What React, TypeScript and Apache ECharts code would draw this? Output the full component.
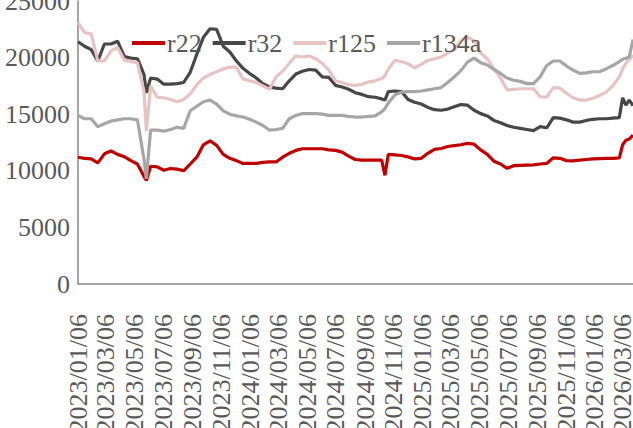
import React, { useEffect, useRef } from "react";
import * as echarts from "echarts";

const sampleDates = [
  "2023/01/06", "2023/01/20", "2023/02/03", "2023/02/17", "2023/03/03", "2023/03/17", "2023/03/31",
  "2023/04/14", "2023/04/28", "2023/05/12", "2023/05/26", "2023/05/31", "2023/06/09", "2023/06/23",
  "2023/07/07", "2023/07/21", "2023/08/04", "2023/08/18", "2023/09/01", "2023/09/15", "2023/09/29",
  "2023/10/13", "2023/10/27", "2023/11/10", "2023/11/24", "2023/12/08", "2023/12/22", "2024/01/05",
  "2024/01/19", "2024/02/02", "2024/02/16", "2024/03/01", "2024/03/15", "2024/03/29", "2024/04/12",
  "2024/04/26", "2024/05/10", "2024/05/24", "2024/06/07", "2024/06/21", "2024/07/05", "2024/07/19",
  "2024/08/02", "2024/08/16", "2024/08/30", "2024/09/13", "2024/09/27", "2024/10/11", "2024/10/18",
  "2024/10/25", "2024/11/08", "2024/11/22", "2024/12/06", "2024/12/20", "2025/01/03", "2025/01/17",
  "2025/01/31", "2025/02/14", "2025/02/28", "2025/03/14", "2025/03/28", "2025/04/11", "2025/04/25",
  "2025/05/09", "2025/05/23", "2025/06/06", "2025/06/20", "2025/07/04", "2025/07/18", "2025/08/01",
  "2025/08/15", "2025/08/29", "2025/09/12", "2025/09/26", "2025/10/10", "2025/10/24", "2025/11/07",
  "2025/11/21", "2025/12/05", "2025/12/19", "2026/01/02", "2026/01/16", "2026/01/30", "2026/02/13",
  "2026/02/27", "2026/03/06", "2026/03/13", "2026/03/20", "2026/03/28",
];

const r22 = [
  11200, 11100, 11050, 10700, 11500, 11750, 11450,
  11250, 10900, 10600, 9500, 9150, 10400, 10350,
  10050, 10200, 10150, 10000, 10600, 11200, 12300,
  12650, 12250, 11450, 11100, 10900, 10650, 10650,
  10650, 10750, 10780, 10780, 11200, 11550, 11800,
  11950, 11950, 11950, 11950, 11850, 11800, 11650,
  11300, 11000, 10950, 10950, 10950, 10950, 9600,
  11450, 11400, 11350, 11230, 11050, 11100, 11550,
  11900, 11970, 12150, 12230, 12300, 12420, 12350,
  11850, 11450, 10850, 10600, 10220, 10450, 10480,
  10500, 10520, 10600, 10650, 11150, 11100, 10900,
  10880, 10950, 11000, 11050, 11080, 11090, 11100,
  11150, 12300, 12700, 12800, 13150,
];

const r32 = [
  21400, 21000, 20700, 19700, 21200, 21200, 21450,
  20100, 19950, 19900, 18500, 16900, 18200, 18100,
  17650, 17650, 17700, 17800, 18700, 20300, 21800,
  22550, 22500, 21000, 20500, 19700, 19050, 18600,
  18200, 17700, 17400, 17300, 17250, 17950, 18550,
  18800, 18950, 18900, 18300, 18250, 17550, 17400,
  17200, 16900, 16750, 16550, 16500, 16350, 16250,
  17000, 17050, 17000, 16300, 16050, 15900, 15600,
  15400, 15350, 15450, 15650, 15850, 15800, 15350,
  15050, 14850, 14450, 14250, 14000, 13850, 13750,
  13650, 13550, 13900, 13800, 14700, 14650, 14500,
  14300, 14300, 14450, 14550, 14600, 14600, 14650,
  14700, 16450, 15800, 16250, 15750,
];

const r125 = [
  23100, 22200, 22100, 19700, 19700, 20600, 20900,
  19800, 19650, 19550, 17000, 13500, 17500, 16500,
  16450, 16300, 16100, 16300, 16800, 17600, 18200,
  18500, 18750, 19000, 19150, 19150, 18100, 17950,
  17800, 17500, 17200, 18300, 18800, 19500, 20150,
  20050, 20150, 19900, 19500, 18900, 17950, 17800,
  17600, 17550, 17650, 17850, 17950, 18150, 18400,
  19000, 19750, 19650, 19450, 19100, 19400, 19750,
  19900, 20050, 20400, 20700, 21500, 21800, 21500,
  20400, 19900, 19000, 18200, 17150, 17200, 17250,
  17250, 17250, 16550, 16500, 17350, 17300, 16850,
  16450, 16250, 16250, 16400, 16650, 16950, 17500,
  18300, 19000, 19500, 19850, 20200,
];

const r134a = [
  14900, 14600, 14600, 13900, 14150, 14400, 14500,
  14600, 14600, 14500, 11000, 9300, 13600, 13600,
  13500, 13650, 13850, 13750, 15300, 15700, 16100,
  16250, 15900, 15300, 15000, 14850, 14750, 14550,
  14300, 14000, 13600, 13650, 13750, 14600, 14900,
  15050, 15050, 15050, 15000, 14900, 14900, 14900,
  14800, 14750, 14750, 14800, 14850, 15200, 15500,
  16000, 16700, 16950, 17000, 17000, 17050, 17150,
  17250, 17350, 17800, 18300, 18850, 19600, 19950,
  19550, 19350, 18950, 18600, 18200, 18000, 17900,
  17700, 17700, 18300, 19300, 19700, 19700, 19250,
  18900, 18600, 18650, 18750, 18750, 19000, 19300,
  19650, 19850, 19950, 20050, 21600,
];

const yTicks = [0, 5000, 10000, 15000, 20000, 25000];

const seriesNames = ["r22", "r32", "r125", "r134a"];
const seriesColors = ["#C00000", "#474747", "#E8C3C3", "#A6A6A6"];
const seriesValues = [r22, r32, r125, r134a];

function pad(n: number) {
  return n < 10 ? "0" + n : String(n);
}

function buildDays(start: string, end: string): string[] {
  const [sy, sm, sd] = start.split("/").map(Number);
  const [ey, em, ed] = end.split("/").map(Number);
  const d = new Date(Date.UTC(sy, sm - 1, sd));
  const e = new Date(Date.UTC(ey, em - 1, ed));
  const out: string[] = [];
  while (d.getTime() <= e.getTime()) {
    out.push(`${d.getUTCFullYear()}/${pad(d.getUTCMonth() + 1)}/${pad(d.getUTCDate())}`);
    d.setUTCDate(d.getUTCDate() + 1);
  }
  return out;
}

export default function App() {
  const ref = useRef<HTMLDivElement>(null);

  useEffect(() => {
    if (!ref.current) return;
    const chart = echarts.init(ref.current, undefined, { renderer: "svg" });
    const days = buildDays(sampleDates[0], sampleDates[sampleDates.length - 1]);
    const font = "'Liberation Serif', 'Times New Roman', serif";

    chart.setOption({
      animation: false,
      backgroundColor: "#ffffff",
      textStyle: { fontFamily: font },
      grid: {
        left: 78,
        right: 0,
        top: 1,
        bottom: 144,
        containLabel: false,
        outerBoundsMode: "none",
      },
      legend: {
        data: seriesNames,
        left: 127,
        top: 25,
        icon: "rect",
        itemWidth: 33,
        itemHeight: 4,
        itemGap: 11,
        textStyle: { fontFamily: font, fontSize: 26, color: "#595959", padding: [0, 0, 0, -3] },
      },
      xAxis: {
        type: "category",
        data: days,
        boundaryGap: false,
        axisLine: { show: true, lineStyle: { color: "#898989", width: 1.5 } },
        axisTick: { show: false },
        splitLine: { show: false },
        axisLabel: {
          interval: (_i: number, v: string) => {
            const parts = v.split("/");
            return parts[2] === "06" && Number(parts[1]) % 2 === 1;
          },
          rotate: 90,
          margin: 30,
          fontFamily: font,
          fontSize: 26,
          color: "#595959",
        },
      },
      yAxis: {
        type: "value",
        min: yTicks[0],
        max: yTicks[yTicks.length - 1],
        interval: 5000,
        axisLine: { show: true, lineStyle: { color: "#898989", width: 1.5 } },
        axisTick: { show: false },
        splitLine: { show: false },
        axisLabel: {
          fontFamily: font,
          fontSize: 26,
          color: "#595959",
          margin: 8,
          formatter: (v: number) => String(v),
        },
      },
      series: seriesNames.map((name, i) => ({
        name,
        type: "line",
        data: sampleDates.map((d, j) => [d, seriesValues[i][j]]),
        showSymbol: false,
        symbol: "none",
        color: seriesColors[i],
        lineStyle: { color: seriesColors[i], width: 3.2 },
        clip: true,
      })),
    });

    return () => chart.dispose();
  }, []);

  return (
    <div
      ref={ref}
      style={{ position: "fixed", left: 0, top: 0, width: 633, height: 428, background: "#fff" }}
    />
  );
}
